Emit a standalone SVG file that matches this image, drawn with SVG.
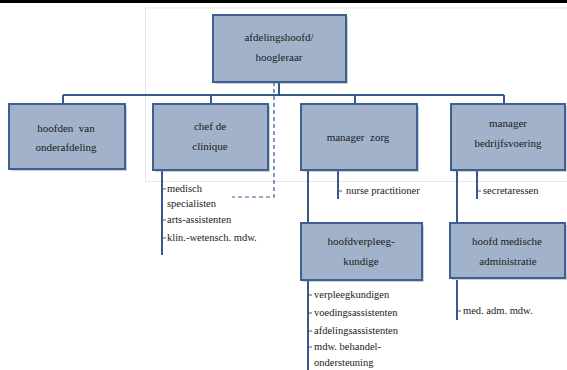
<svg xmlns="http://www.w3.org/2000/svg" width="567" height="370" viewBox="0 0 567 370">
<style>
.box{fill:#a2b2ca;stroke:#3d5f91;stroke-width:2}
.shadow{fill:#6d7d96;opacity:0.35}
.ln{stroke:#36598b;stroke-width:2;fill:none}
.tick{stroke:#555;stroke-width:1}
text{font-family:'Liberation Serif','Times New Roman','DejaVu Serif',serif;fill:#1a1a1a}
.bt{font-size:11px;text-anchor:middle}
.it{font-size:10.5px}
</style>
<rect x="0" y="0" width="567" height="3" fill="#000"/>
<path d="M567 8 H145.5 V181.5 H567" fill="none" stroke="#c9ced6" stroke-width="1" stroke-dasharray="1,1"/>
<g id="connectors">
<path class="ln" d="M279 82 V95 M63 95 H504 M63 95 V104 M211 95 V104 M355 95 V104 M504 95 V104"/>
<path class="ln" d="M162 170 V255"/>
<path class="ln" d="M308 170 V223 M338 170 V199"/>
<path class="ln" d="M308 280 V370"/>
<path class="ln" d="M457 170 V226 M477 170 V199"/>
<path class="ln" d="M457 280 V320"/>
<path d="M274 82 V197 H232" fill="none" stroke="#36598b" stroke-width="1.2" stroke-dasharray="4,3"/>
<path class="tick" d="M162 189 H166 M162 220 H166 M162 238 H166 M338 191 H342 M477 191 H481 M308 295 H312 M308 313 H312 M308 331 H312 M308 347 H312 M457 311 H461"/>
</g>
<g id="root">
<rect class="shadow" x="215" y="17" width="133" height="67"/>
<rect class="box" x="213" y="15" width="133" height="67"/>
<text class="bt" x="279" y="41">afdelingshoofd/</text>
<text class="bt" x="279" y="61">hoogleraar</text>
</g>
<g id="hoofden">
<rect class="shadow" x="11" y="106" width="116" height="65"/>
<rect class="box" x="9" y="104" width="116" height="65"/>
<text class="bt" x="66" y="132" xml:space="preserve">hoofden  van</text>
<text class="bt" x="66" y="151">onderafdeling</text>
</g>
<g id="chef">
<rect class="shadow" x="155" y="106" width="115" height="66"/>
<rect class="box" x="153" y="104" width="115" height="66"/>
<text class="bt" x="210" y="130">chef de</text>
<text class="bt" x="210" y="150">clinique</text>
</g>
<g id="managerzorg">
<rect class="shadow" x="303" y="106" width="116" height="66"/>
<rect class="box" x="301" y="104" width="116" height="66"/>
<text class="bt" x="358" y="141" xml:space="preserve">manager  zorg</text>
</g>
<g id="bedrijfsvoering">
<rect class="shadow" x="453" y="106" width="114" height="66"/>
<rect class="box" x="451" y="104" width="114" height="66"/>
<text class="bt" x="508" y="127">manager</text>
<text class="bt" x="508" y="147">bedrijfsvoering</text>
</g>
<g id="hoofdverpleeg">
<rect class="shadow" x="303" y="225" width="121" height="57"/>
<rect class="box" x="301" y="223" width="121" height="57"/>
<text class="bt" x="361" y="245">hoofdverpleeg-</text>
<text class="bt" x="361" y="265">kundige</text>
</g>
<g id="hoofdmedische">
<rect class="shadow" x="452" y="225" width="115" height="55"/>
<rect class="box" x="450" y="223" width="115" height="55"/>
<text class="bt" x="507" y="245">hoofd medische</text>
<text class="bt" x="508" y="265">administratie</text>
</g>
<g id="items">
<text class="it" x="167" y="192">medisch</text>
<text class="it" x="167" y="207">specialisten</text>
<text class="it" x="167" y="223">arts-assistenten</text>
<text class="it" x="167" y="241">klin.-wetensch. mdw.</text>
<text class="it" x="346" y="194">nurse practitioner</text>
<text class="it" x="483" y="194">secretaressen</text>
<text class="it" x="314" y="298">verpleegkundigen</text>
<text class="it" x="314" y="316">voedingsassistenten</text>
<text class="it" x="314" y="334">afdelingsassistenten</text>
<text class="it" x="314" y="350">mdw. behandel-</text>
<text class="it" x="314" y="366">ondersteuning</text>
<text class="it" x="463" y="314">med. adm. mdw.</text>
</g>
</svg>
